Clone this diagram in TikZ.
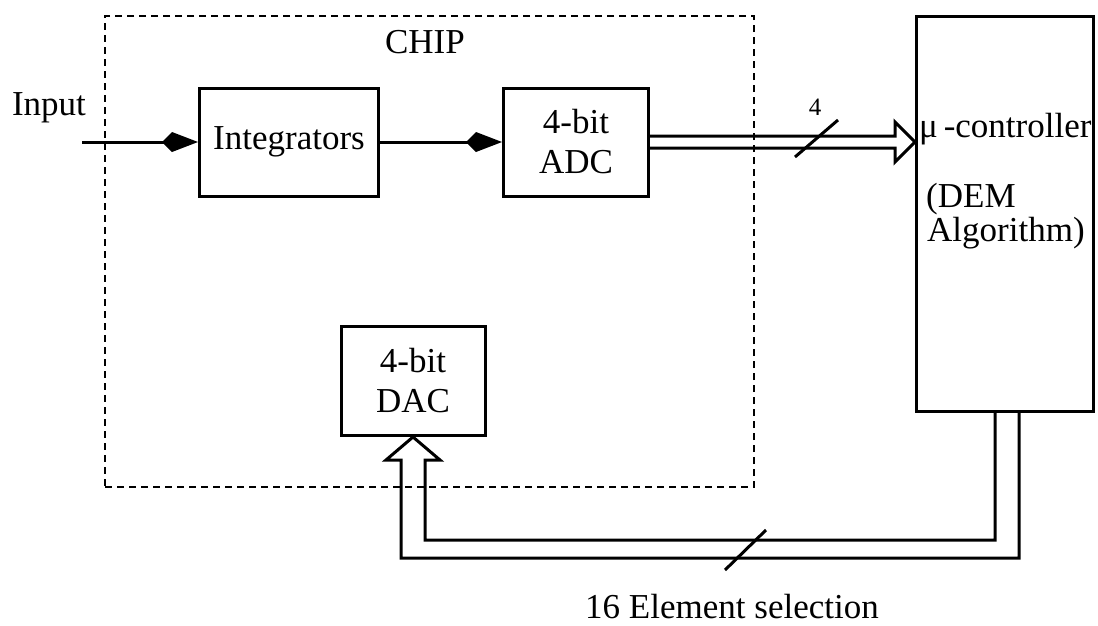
\documentclass[tikz,border=0pt]{standalone}
\usepackage{fontspec}
\setmainfont{Liberation Serif}
\usetikzlibrary{arrows.meta,calc}

\begin{document}
\begin{tikzpicture}[x=1pt,y=-1pt,
  block/.style={draw, line width=3pt, align=center, font=\fontsize{35}{40}\selectfont},
  lbl/.style={font=\fontsize{35}{40}\selectfont, inner sep=0pt},
  wire/.style={line width=3pt, -{Kite[length=36pt,width=20pt,inset=10pt]}},
  bus/.style={line width=3pt, line join=miter},
  tick/.style={line width=3pt}]

  \useasboundingbox (0,0) rectangle (1098,625);

  % chip outline
  \node[draw, line width=2pt, dash pattern=on 7pt off 5pt, inner sep=0pt,
        minimum width=649pt, minimum height=471pt] (chip) at (429.5,251.5) {};
  \node[lbl, anchor=base] (chiplbl) at (425,53) {CHIP};

  % blocks
  \node[block, minimum width=179pt, minimum height=108pt] (integ) at (289,142) {Integrators};
  \node[block, minimum width=145pt, minimum height=108pt] (adc) at (576,142) {4-bit\\ADC};
  \node[block, minimum width=144pt, minimum height=109pt] (dac) at (413,381) {4-bit\\DAC};
  \node[block, minimum width=177pt, minimum height=395pt] (mcu) at (1005,214) {};

  \node[lbl, anchor=base west] (mcuname) at (919,137) {μ\,-controller};
  \node[lbl, anchor=base west] (dem) at (926,207) {(DEM};
  \node[lbl, anchor=base west] (alg) at (927,241) {Algorithm)};

  % input path
  \node[lbl, anchor=base] (inlbl) at (49,115) {Input};
  \coordinate (in) at (integ.west -| 82,0);
  \draw[wire] (in) -- (integ.west);
  \draw[wire] (integ.east) -- (adc.west);

  % 4 bit bus to the controller
  \coordinate (tipA) at (mcu.west |- adc.east);
  \draw[bus] ($(adc.east)+(0,-6)$) -- ($(tipA)+(-20,-6)$) -- ($(tipA)+(-20,-20)$)
    -- (tipA) -- ($(tipA)+(-20,20)$) -- ($(tipA)+(-20,6)$) -- ($(adc.east)+(0,6)$);
  \draw[tick] (795,157) -- (838,120);
  \node[font=\fontsize{25}{30}\selectfont, inner sep=0pt, anchor=base] (nbits) at (815,115) {4};

  % selection bus back to the DAC
  \coordinate (c1) at ($(mcu.south)+(2,136)$);
  \coordinate (c2) at (dac.south |- c1);
  \draw[bus] ($(mcu.south)+(14,0)$) -- ($(c1)+(12,9)$) -- ($(c2)+(-12,9)$)
    -- ($(dac.south)+(-12,23)$) -- ($(dac.south)+(-27,23)$) -- (dac.south)
    -- ($(dac.south)+(27,23)$) -- ($(dac.south)+(12,23)$) -- ($(c2)+(12,-9)$)
    -- ($(c1)+(-12,-9)$) -- ($(mcu.south)+(-10,0)$);
  \draw[tick] (725,570) -- (766,530);
  \node[lbl, anchor=base] (sel) at (732,618) {16 Element selection};

\end{tikzpicture}
\end{document}
